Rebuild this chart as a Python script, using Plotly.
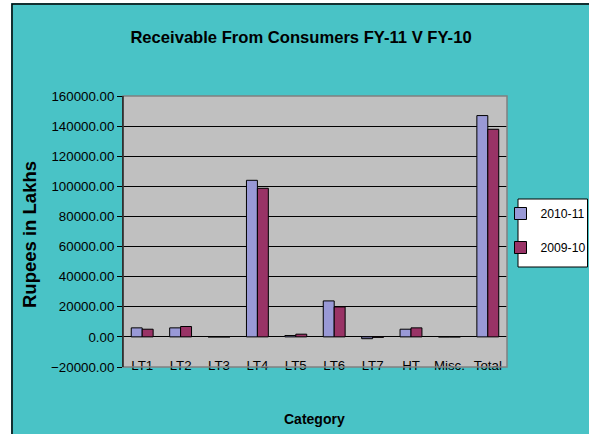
import plotly.graph_objects as go

categories = ["LT1", "LT2", "LT3", "LT4", "LT5", "LT6", "LT7", "HT", "Misc.", "Total"]
fy_2010_11 = [6000, 6000, 0, 104000, 900, 23900, -1200, 5100, 0, 147000]
fy_2009_10 = [5100, 6900, 0, 98700, 1800, 19900, -300, 6000, 0, 137900]
series_names = ["2010-11", "2009-10"]
y_ticks = [-20000, 0, 20000, 40000, 60000, 80000, 100000, 120000, 140000, 160000]

FONT = "Liberation Sans, Arial, sans-serif"
TEAL = "#49C3C6"

W, H = 589, 434
L, R, T, B = 123, 82, 96, 67
PW, PH = W - L - R, H - T - B

def px(xp):
    return (xp - L) / PW

def py(yp):
    return (H - B - yp) / PH

fig = go.Figure()
fig.add_trace(go.Bar(x=categories, y=fy_2010_11, name=series_names[0], legendgroup="a",
                     marker=dict(color="#9999D6", line=dict(color="black", width=1))))
fig.add_trace(go.Bar(x=categories, y=fy_2009_10, name=series_names[1], legendgroup="b",
                     marker=dict(color="#993366", line=dict(color="black", width=1))))

fig.update_layout(
    width=W, height=H,
    margin=dict(l=L, r=R, t=T, b=B, autoexpand=False),
    paper_bgcolor=TEAL,
    plot_bgcolor="#C0C0C0",
    bargap=0.43, bargroupgap=0,
    font=dict(family=FONT, size=13.3, color="black"),
    title=dict(text="<b>Receivable From Consumers FY-11 V FY-10</b>",
               font=dict(family=FONT, size=16.6, color="black"),
               x=px(301), xref="paper", xanchor="center",
               y=1 - 37 / H, yref="container", yanchor="middle"),
    showlegend=True,
    legend=dict(x=px(500.5), y=py(199), xanchor="left", yanchor="top",
                bgcolor="rgba(0,0,0,0)", borderwidth=0,
                font=dict(family=FONT, size=12.2, color="black"),
                tracegroupgap=15, itemwidth=30),
    xaxis=dict(type="category", showgrid=False, showline=False, ticks="",
               ticklabelstandoff=-11, tickfont=dict(family=FONT, size=13.3)),
    yaxis=dict(range=[-20000, 160000], tickvals=y_ticks, tickformat=".2f",
               showgrid=True, gridcolor="black", gridwidth=1,
               zeroline=True, zerolinecolor="black", zerolinewidth=1,
               showline=True, linecolor="black", linewidth=1,
               ticks="outside", ticklen=5, tickcolor="black",
               tickfont=dict(family=FONT, size=13.3)),
)

shapes = [
    # plot area frame (grey)
    dict(type="rect", xref="paper", yref="paper", x0=0, x1=1, y0=0, y1=1,
         line=dict(color="#808080", width=1.5), fillcolor="rgba(0,0,0,0)", layer="above"),
    # left axis line again in black
    dict(type="line", xref="paper", yref="paper", x0=0, x1=0, y0=0, y1=1,
         line=dict(color="black", width=1), layer="above"),
    # white strips outside outer border
    dict(type="rect", xref="paper", yref="paper", x0=px(-20), x1=px(11), y0=py(460), y1=py(-20),
         line=dict(width=0), fillcolor="white", layer="below"),
    dict(type="rect", xref="paper", yref="paper", x0=px(-20), x1=px(620), y0=py(3), y1=py(-20),
         line=dict(width=0), fillcolor="white", layer="below"),
    # outer chart border
    dict(type="rect", xref="paper", yref="paper", x0=px(12), x1=px(640), y0=py(470), y1=py(4),
         line=dict(color="black", width=1.5), fillcolor="rgba(0,0,0,0)", layer="below"),
    # legend box
    dict(type="rect", xref="paper", yref="paper", x0=px(518), x1=px(587.5), y0=py(267), y1=py(199),
         line=dict(color="black", width=1), fillcolor="white", layer="below"),
]
fig.update_layout(shapes=shapes)

fig.add_annotation(text="<b>Rupees in Lakhs</b>", xref="paper", yref="paper",
                   x=px(30), y=py(235), textangle=-90, showarrow=False,
                   xanchor="center", yanchor="middle",
                   font=dict(family=FONT, size=18.5, color="black"))
fig.add_annotation(text="<b>Category</b>", xref="paper", yref="paper",
                   x=px(314), y=py(419), showarrow=False,
                   xanchor="center", yanchor="middle",
                   font=dict(family=FONT, size=14, color="black"))

fig.write_html("out.html")
